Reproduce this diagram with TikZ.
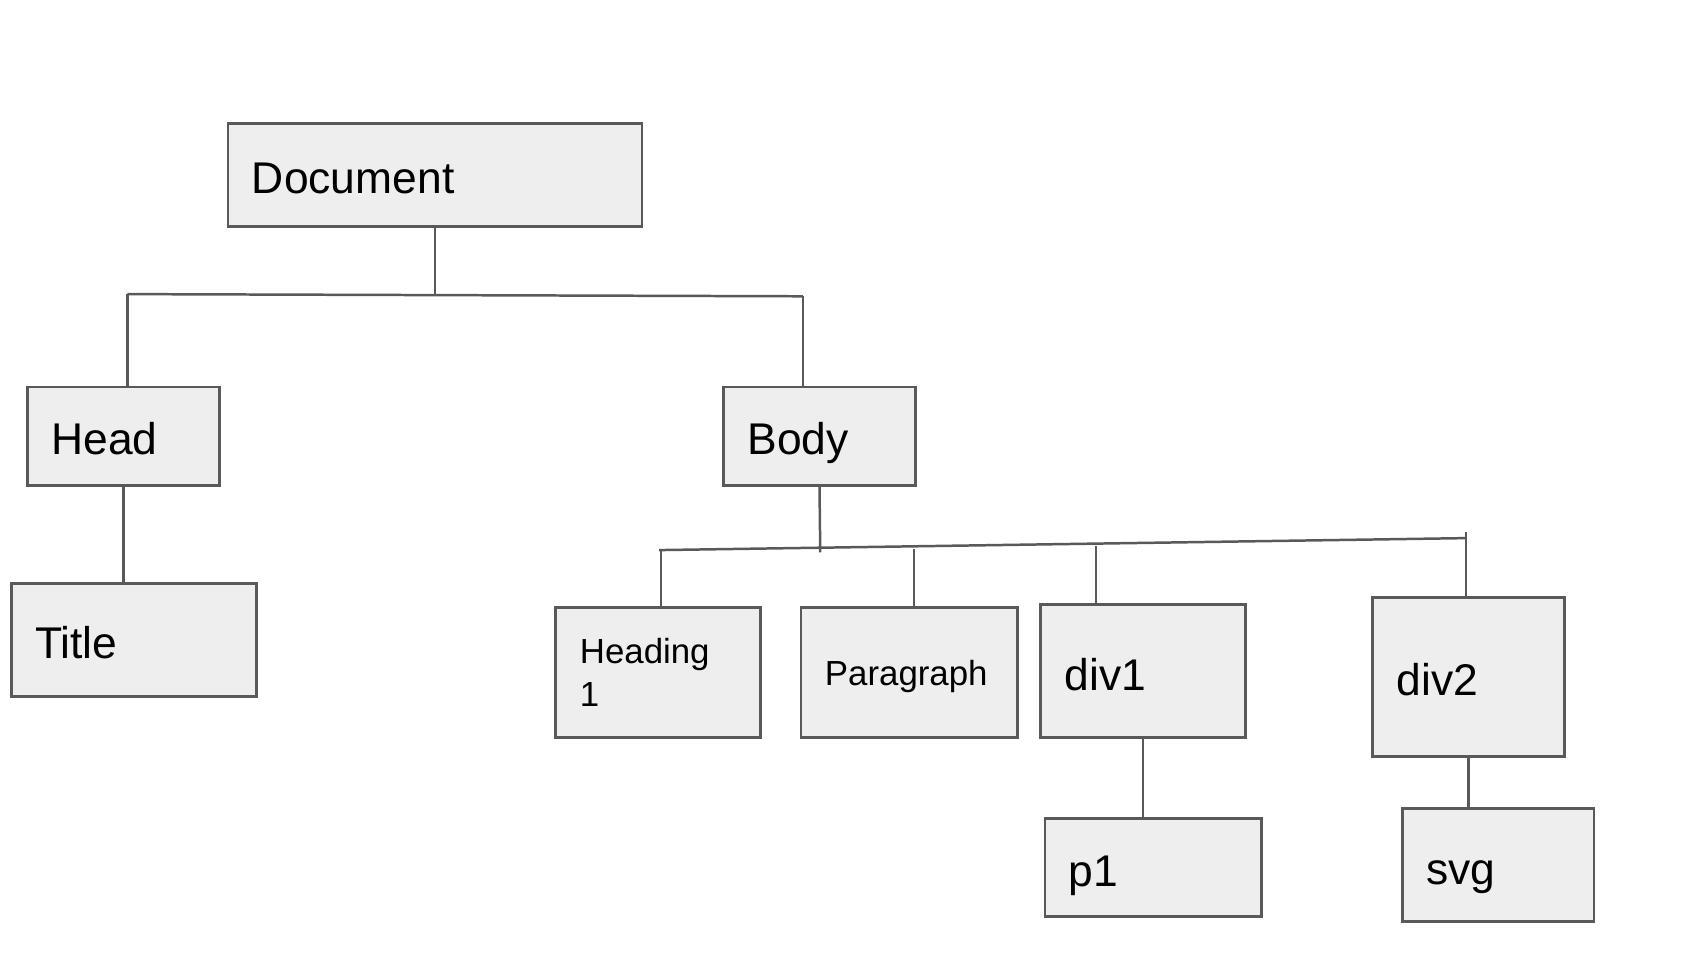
\documentclass[tikz,border=0pt]{standalone}
\usepackage{fontspec}
\setmainfont{Liberation Sans}
\usetikzlibrary{positioning}

\definecolor{boxfill}{HTML}{EEEEEE}
\definecolor{boxline}{HTML}{595959}

\tikzset{
  boxbase/.style={draw=boxline, fill=boxfill, line width=0.75pt, anchor=north west,
    inner xsep=0.22cm, inner ysep=0pt, align=left},
  box/.style={boxbase, font=\fontsize{11.6}{14}\selectfont, text height=9.8pt, text depth=0pt},
  smallbox/.style={boxbase, font=\fontsize{9.1}{11.4}\selectfont, text height=6.7pt, text depth=0pt},
  twolinebox/.style={boxbase, font=\fontsize{9.1}{11.4}\selectfont},
  link/.style={draw=boxline, line width=0.65pt}
}

\begin{document}
\begin{tikzpicture}
            \useasboundingbox (0,0) rectangle (15.68,-8.914);
            \draw (2.08,-1.12) node[box, text width=3.36cm, minimum height=0.95cm] (document) {Document};
            \draw (0.24,-3.54) node[box, text width=1.32cm, minimum height=0.90cm] (head) {Head};
            \draw (0.09,-5.34) node[box, text width=1.81cm, minimum height=1.04cm] (title) {Title};
            \draw (6.63,-3.54) node[box, text width=1.32cm, minimum height=0.90cm] (body) {Body};
            \draw (5.09,-5.56) node[twolinebox, text width=1.44cm, minimum height=1.20cm] (heading) {Heading\\1};
            \draw (7.34,-5.56) node[smallbox, text width=1.55cm, minimum height=1.20cm] (paragraph) {Paragraph};
            \draw (9.54,-5.54) node[box, text width=1.44cm, minimum height=1.22cm] (div1) {div1};
            \draw (12.59,-5.47) node[box, text width=1.32cm, minimum height=1.46cm] (div2) {div2};
            \draw (9.58,-7.50) node[box, text width=1.55cm, minimum height=0.90cm] (p1) {p1};
            \draw (12.86,-7.41) node[box, text width=1.32cm, minimum height=1.04cm] (svg) {svg};
            % bars of the tree
            \coordinate (topL) at (1.17,-2.70);
            \coordinate (topR) at (7.37,-2.72);
            \coordinate (bodyJ) at (7.53,-5.07);
            \coordinate (barL) at (6.05,-5.05);
            \coordinate (headingJ) at (6.07,-5.05);
            \coordinate (paragraphJ) at (8.39,-5.04);
            \coordinate (div1J) at (10.06,-5.01);
            \coordinate (div2J) at (13.46,-4.88);
            \coordinate (barR) at (13.46,-4.94);
            \path[link] (document.south) edge (document.south |- topL)
                        (topL) edge (topR)
                        (topL) edge (topL |- head.north)
                        (topR) edge (topR |- body.north)
                        (head.south) edge (head.south |- title.north)
                        (body.south) edge (bodyJ)
                        (barL) edge (barR)
                        (headingJ) edge (headingJ |- heading.north)
                        (paragraphJ) edge (paragraphJ |- paragraph.north)
                        (div1J) edge (div1J |- div1.north)
                        (div2J) edge (div2J |- div2.north)
                        (div1.south) edge (div1.south |- p1.north)
                        (div2.south) edge (div2.south |- svg.north);
        \end{tikzpicture}
\end{document}
